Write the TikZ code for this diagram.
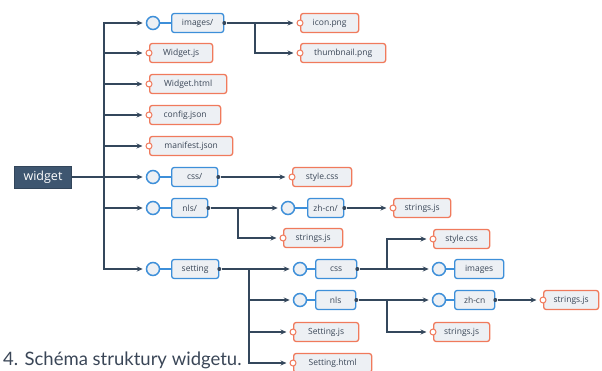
\documentclass[tikz,border=0pt]{standalone}
\usepackage{fontspec}
\setmainfont{Open Sans}
\newfontfamily\capfont{Lato}
\usetikzlibrary{arrows.meta}
\definecolor{linedark}{HTML}{34475C}
\definecolor{dirblue}{HTML}{3D8FD9}
\definecolor{fileorange}{HTML}{F07A5C}
\definecolor{boxfill}{HTML}{EDF0F4}
\definecolor{rootfill}{HTML}{3E5670}
\definecolor{labelgray}{HTML}{3A4657}
\tikzset{
  root/.style={draw=rootfill!80!black, fill=rootfill, text=white,
    font=\fontsize{12.5}{12.5}\selectfont, minimum width=57pt, minimum height=22pt, inner sep=0pt},
  dir/.style={draw=dirblue, fill=boxfill, line width=1.3pt, rounded corners=2.5pt,
    anchor=west, minimum width=#1, minimum height=19pt, inner sep=0pt,
    text=labelgray, font=\fontsize{8.5}{8.5}\selectfont},
  dir/.default=40pt,
  file/.style={draw=fileorange, fill=boxfill, line width=1.3pt, rounded corners=2.5pt,
    anchor=west, minimum width=#1, minimum height=19pt, inner sep=0pt,
    text=labelgray, font=\fontsize{8.5}{8.5}\selectfont},
  file/.default=60pt,
  knob/.style={circle, draw=dirblue, fill=boxfill, line width=1.5pt, minimum size=13pt, inner sep=0pt},
  port/.style={circle, draw=fileorange, fill=white, line width=1pt, minimum size=6pt, inner sep=0pt},
  dot/.style={circle, fill=linedark, minimum size=4pt, inner sep=0pt},
  tie/.style={draw=dirblue, line width=1.3pt},
  link/.style={draw=linedark, line width=1.3pt},
  arr/.style={link, -{Stealth[length=6pt,width=5pt]}, shorten >=3pt}
}
\begin{document}
\begin{tikzpicture}[x=1pt,y=-1pt]
\useasboundingbox (0,0) rectangle (602,371);
\newcommand{\xtrunk}{104}
\newcommand{\xknob}{153}
\newcommand{\xbox}{171}
\newcommand{\xport}{149}

\node[root] (widget) at (43,177) {widget};
\coordinate (trunk) at (\xtrunk,177);
\draw[link] (\xtrunk,23) -- (\xtrunk,269);
\draw[link] (widget) -- (trunk);

\node[knob] (imagesk) at (\xknob,23) {};
\node[dir=52pt] (images) at (\xbox,23) {images/};
\draw[tie] (imagesk) -- (images);
\node[dot] (imagesd) at (images.east) {};
\node[file=63pt] (widgetjs) at (\xport,53) {Widget.js};
\node[port] (widgetjsp) at (widgetjs.west) {};
\node[file=77pt] (widgethtml) at (\xport,84) {Widget.html};
\node[port] (widgethtmlp) at (widgethtml.west) {};
\node[file=71pt] (config) at (\xport,115) {config.json};
\node[port] (configp) at (config.west) {};
\node[file=83pt] (manifest) at (\xport,146) {manifest.json};
\node[port] (manifestp) at (manifest.west) {};
\node[knob] (cssk) at (\xknob,177) {};
\node[dir=46pt] (css) at (\xbox,177) {css/};
\draw[tie] (cssk) -- (css);
\node[dot] (cssd) at (css.east) {};
\node[knob] (nlsk) at (\xknob,208) {};
\node[dir=36pt] (nls) at (\xbox,208) {nls/};
\draw[tie] (nlsk) -- (nls);
\node[dot] (nlsd) at (nls.east) {};
\node[knob] (settingk) at (\xknob,269) {};
\node[dir=47pt] (setting) at (\xbox,269) {setting};
\draw[tie] (settingk) -- (setting);
\node[dot] (settingd) at (setting.east) {};

\draw[arr] (trunk) |- (imagesk);
\draw[arr] (trunk) |- (widgetjsp);
\draw[arr] (trunk) |- (widgethtmlp);
\draw[arr] (trunk) |- (configp);
\draw[arr] (trunk) |- (manifestp);
\draw[arr] (trunk) -- (cssk);
\draw[arr] (trunk) |- (nlsk);
\draw[arr] (trunk) |- (settingk);

\node[file=58pt] (icon) at (300,23) {icon.png};
\node[port] (iconp) at (icon.west) {};
\node[file=85pt] (thumb) at (300,53) {thumbnail.png};
\node[port] (thumbp) at (thumb.west) {};
\coordinate (imagesb) at (255,23);
\draw[arr] (imagesd) -- (iconp);
\draw[arr] (imagesb) |- (thumbp);

\node[file=59pt] (stylecss) at (292,177) {style.css};
\node[port] (stylecssp) at (stylecss.west) {};
\draw[arr] (cssd) -- (stylecssp);

\node[knob] (zhcnk) at (288,208) {};
\node[dir=36pt] (zhcn) at (307,208) {zh-cn/};
\draw[tie] (zhcnk) -- (zhcn);
\node[dot] (zhcnd) at (zhcn.east) {};
\node[file=59pt] (nlsstrings) at (283,238) {strings.js};
\node[port] (nlsstringsp) at (nlsstrings.west) {};
\coordinate (nlsb) at (238,208);
\draw[arr] (nlsd) -- (zhcnk);
\draw[arr] (nlsb) |- (nlsstringsp);
\node[file=57pt] (zhcnstrings) at (393,208) {strings.js};
\node[port] (zhcnstringsp) at (zhcnstrings.west) {};
\draw[arr] (zhcnd) -- (zhcnstringsp);

\node[knob] (scssk) at (300,269) {};
\node[dir=41pt] (scss) at (315,269) {css};
\draw[tie] (scssk) -- (scss);
\node[dot] (scssd) at (scss.east) {};
\node[knob] (snlsk) at (300,300) {};
\node[dir=40pt] (snls) at (315,300) {nls};
\draw[tie] (snlsk) -- (snls);
\node[dot] (snlsd) at (snls.east) {};
\node[file=65pt] (settingjs) at (293,332) {Setting.js};
\node[port] (settingjsp) at (settingjs.west) {};
\node[file=78pt] (settinghtml) at (293,363) {Setting.html};
\node[port] (settinghtmlp) at (settinghtml.west) {};
\coordinate (settingb) at (249,269);
\draw[arr] (settingd) -- (scssk);
\draw[arr] (settingb) |- (snlsk);
\draw[arr] (settingb) |- (settingjsp);
\draw[arr] (settingb) |- (settinghtmlp);

\node[file=56pt] (sstylecss) at (433,239) {style.css};
\node[port] (sstylecssp) at (sstylecss.west) {};
\node[knob] (simagesk) at (439,269) {};
\node[dir=49pt] (simages) at (454,269) {images};
\draw[tie] (simagesk) -- (simages);
\coordinate (scssb) at (387,269);
\draw[arr] (scssd) -- (simagesk);
\draw[arr] (scssb) |- (sstylecssp);

\node[knob] (szhcnk) at (439,300) {};
\node[dir=40pt] (szhcn) at (454,300) {zh-cn};
\draw[tie] (szhcnk) -- (szhcn);
\node[dot] (szhcnd) at (szhcn.east) {};
\node[file=56pt] (snlsstrings) at (433,332) {strings.js};
\node[port] (snlsstringsp) at (snlsstrings.west) {};
\coordinate (snlsb) at (387,300);
\draw[arr] (snlsd) -- (szhcnk);
\draw[arr] (snlsb) |- (snlsstringsp);
\node[file=55pt] (szhcnstrings) at (543,300) {strings.js};
\node[port] (szhcnstringsp) at (szhcnstrings.west) {};
\draw[arr] (szhcnd) -- (szhcnstringsp);

\node[anchor=base west, inner sep=0pt, text=labelgray, font=\capfont\fontsize{18.5}{18.5}\selectfont] (caption) at (3,365) {4. Schéma struktury widgetu.};
\end{tikzpicture}
\end{document}
